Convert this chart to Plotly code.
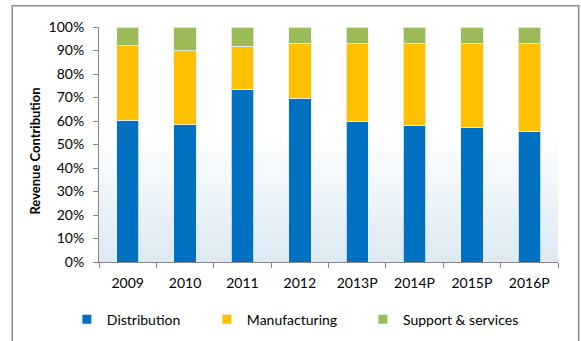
import plotly.graph_objects as go

# Revenue mix by segment (share of total, %)
years = ["2009", "2010", "2011", "2012", "2013P", "2014P", "2015P", "2016P"]
distribution = [60.3, 58.4, 73.5, 69.6, 59.6, 58.1, 57.1, 55.5]
manufacturing = [31.8, 31.4, 18.3, 23.2, 33.2, 34.7, 35.7, 37.3]
support_services = [7.9, 10.2, 8.2, 7.2, 7.2, 7.2, 7.2, 7.2]

series_names = ["Distribution", "Manufacturing", "Support & services"]
series_colors = ["#0070C0", "#FFC000", "#9BBB59"]
series_values = [distribution, manufacturing, support_services]

y_ticks = list(range(0, 101, 10))
y_tick_labels = [f"{t}%" for t in y_ticks]

FONT = "Lato, 'Open Sans', sans-serif"

fig = go.Figure()

# stacked bars (shares expressed as fractions of 100)
for name, color, vals in zip(series_names, series_colors, series_values):
    fig.add_trace(go.Bar(
        x=years, y=vals, name=name,
        marker=dict(color=color, line=dict(color="rgba(230,240,245,0.8)", width=1)),
        showlegend=False,
    ))

# legend entries with small square keys, one legend per entry
legend_ids = ["legend", "legend2", "legend3"]
for name, color, lid in zip(series_names, series_colors, legend_ids):
    fig.add_trace(go.Scatter(
        x=[None], y=[None], mode="markers", name=name,
        marker=dict(symbol="square", size=9, color=color),
        showlegend=True, legend=lid,
    ))

# soft vertical gradient behind the bars
bottom_rgb = (219, 233, 242)
n_strips = 40
grad_top = 0.55
for i in range(n_strips):
    y0 = grad_top * i / n_strips
    y1 = grad_top * (i + 1) / n_strips
    t = (i + 0.5) / n_strips
    r, g, b = [round(c + (255 - c) * t) for c in bottom_rgb]
    fig.add_shape(type="rect", xref="x domain", yref="y domain",
                  x0=0, x1=1, y0=y0, y1=y1 + 0.002,
                  fillcolor=f"rgb({r},{g},{b})", line=dict(width=0), layer="below")

# outer chart frame
fig.add_shape(type="rect", xref="paper", yref="paper",
              x0=-0.189, x1=1.045, y0=-0.45, y1=1.09,
              line=dict(color="#8c8c8c", width=1.5), fillcolor="rgba(0,0,0,0)")

# vertical axis title
fig.add_annotation(text="<b>Revenue Contribution</b>", textangle=-90,
                   xref="paper", yref="paper", x=-0.1394, y=0.470,
                   xanchor="center", yanchor="middle", showarrow=False,
                   font=dict(family=FONT, size=13, color="#000000"))

legend_common = dict(orientation="h", yanchor="middle", y=-0.245, xanchor="left",
                     font=dict(family=FONT, size=14, color="#000000"),
                     bgcolor="rgba(0,0,0,0)", borderwidth=0)

fig.update_layout(
    width=581, height=341,
    margin=dict(l=99, r=23, t=27, b=79, autoexpand=False),
    paper_bgcolor="white",
    plot_bgcolor="white",
    barmode="stack",
    bargap=0.61,
    font=dict(family=FONT, size=13, color="#000000"),
    legend=dict(legend_common, x=-0.070),
    legend2=dict(legend_common, x=0.235),
    legend3=dict(legend_common, x=0.575),
    xaxis=dict(
        showline=True, linecolor="#868686", linewidth=1,
        ticks="outside", ticklen=5, tickcolor="#868686",
        tickson="boundaries", showgrid=False,
        ticklabelstandoff=8,
        tickfont=dict(family=FONT, size=14, color="#000000"),
    ),
    yaxis=dict(
        range=[0, 100], tickvals=y_ticks, ticktext=y_tick_labels,
        showline=True, linecolor="#868686", linewidth=1,
        ticks="outside", ticklen=5, tickcolor="#868686",
        showgrid=False, zeroline=False,
        ticklabelstandoff=6,
        tickfont=dict(family=FONT, size=14, color="#000000"),
    ),
)

fig.write_html("out.html")
